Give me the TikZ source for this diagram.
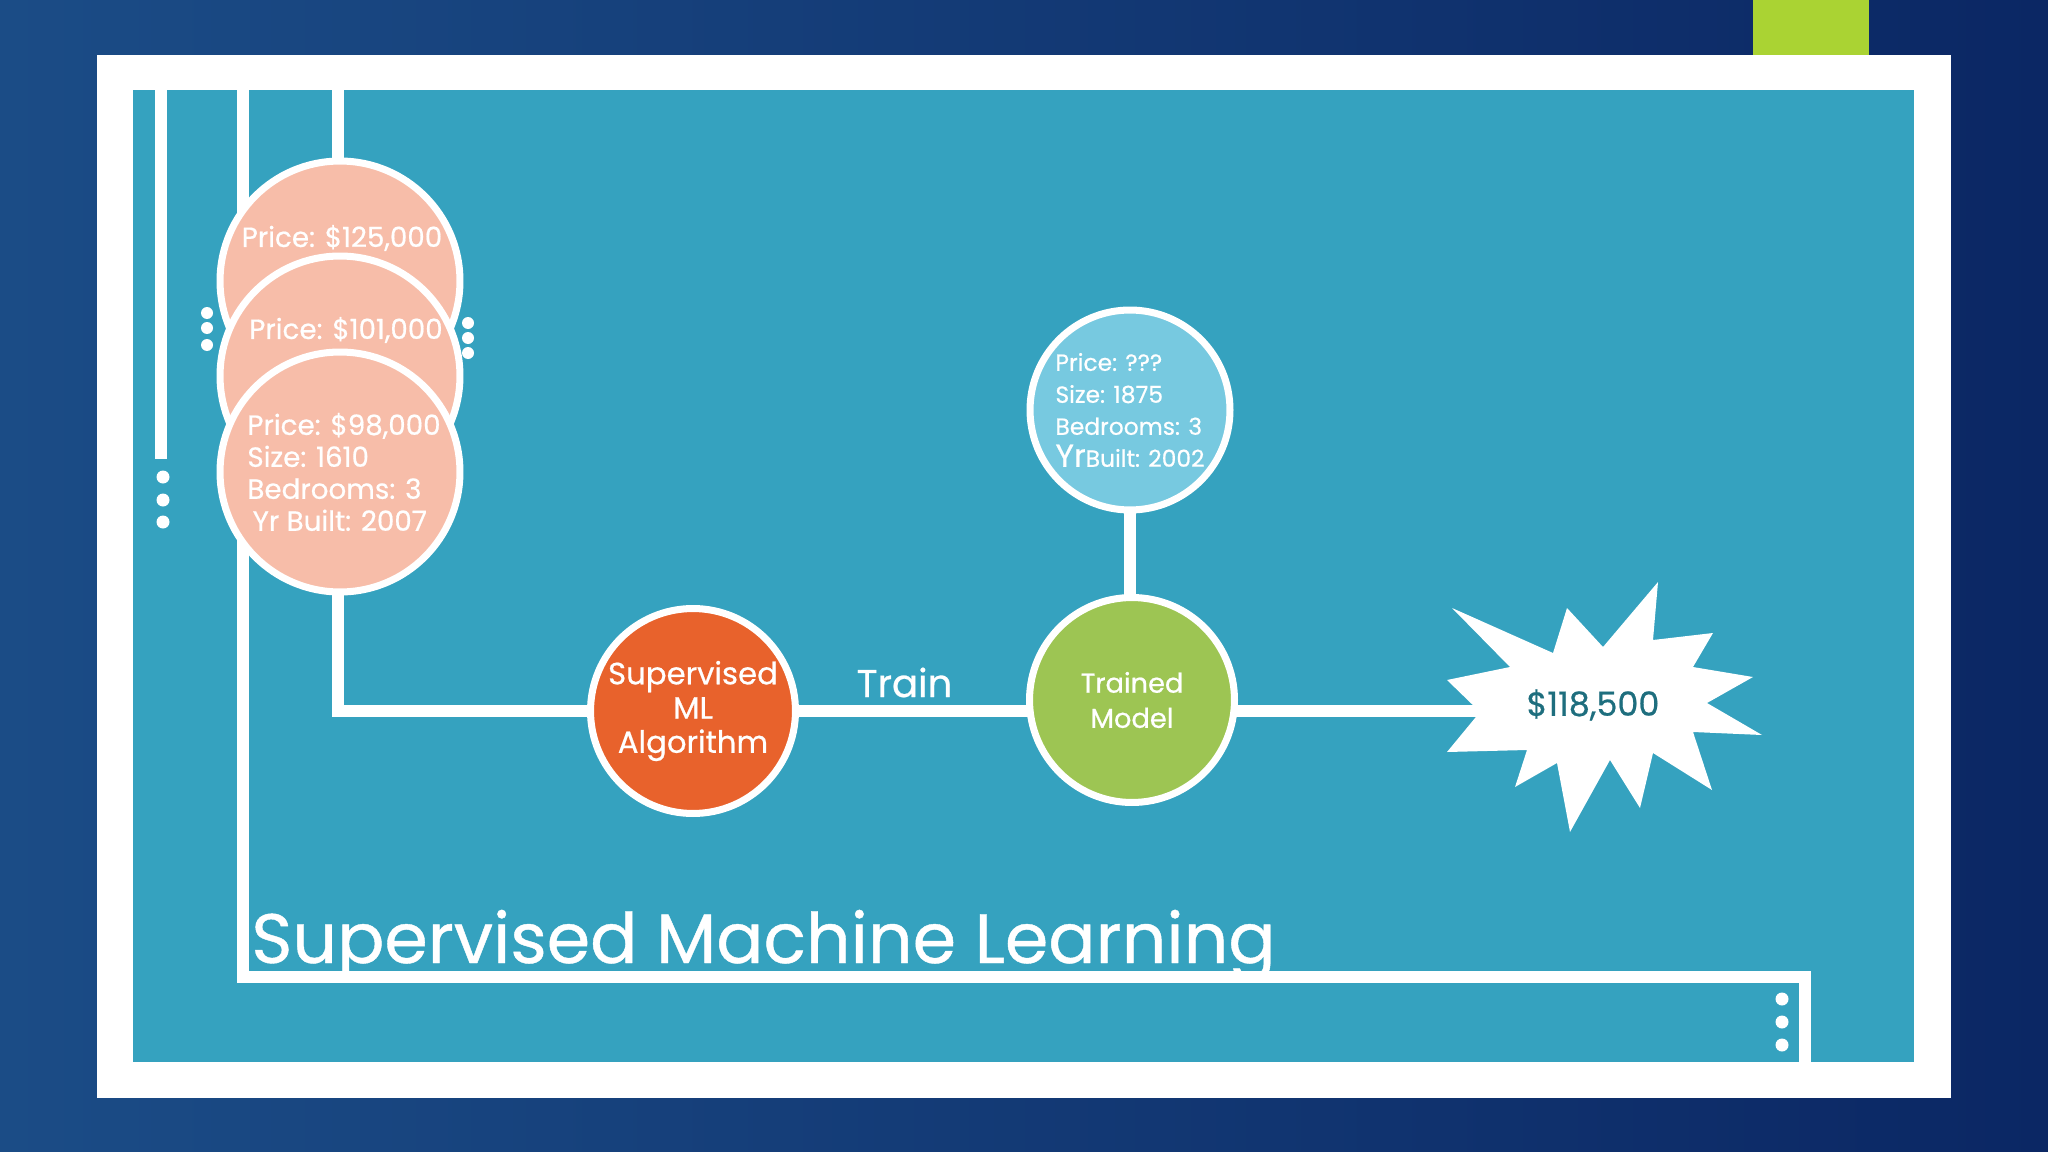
\documentclass[tikz,border=0pt]{standalone}
\usepackage{fontspec}
\setmainfont{Poppins}[FakeBold=0.6]
\usetikzlibrary{positioning}

\definecolor{navy}{HTML}{0B2764}
\definecolor{navylight}{HTML}{1B4C86}
\definecolor{panel}{HTML}{35A2BF}
\definecolor{peach}{HTML}{F7BDA9}
\definecolor{rust}{HTML}{E8622C}
\definecolor{leaf}{HTML}{9DC553}
\definecolor{sky}{HTML}{77C9E0}
\definecolor{lime}{HTML}{AAD333}
\definecolor{pricetext}{HTML}{1E6E7E}

\pgfdeclarelayer{back}
\pgfdeclarelayer{wires}
\pgfsetlayers{back,wires,main}

\begin{document}
\begin{tikzpicture}
  [x=0.02cm, y=-0.02cm,
   wire/.style={white, line width=6.3pt},
   ball/.style={circle, draw=white, line width=4pt, inner sep=0pt, text=white},
   txt/.style={text=white, inner sep=0pt}]
  \useasboundingbox (0,0) rectangle (2048,1152);

  \begin{pgfonlayer}{back}
    \shade[left color=navylight, right color=navy] (0,0) rectangle (2048,1152);
    \fill[white] (97,55) rectangle (1951,1098);
    \fill[panel] (133,90) rectangle (1914,1062);
    \fill[lime] (1753,0) rectangle (1869,55);
  \end{pgfonlayer}

  % houses
  \node[ball, fill=peach, minimum size=4.8cm] (house1) at (340,281) {};
  \node[ball, fill=peach, minimum size=4.8cm] (house2) at (340,376) {};
  \node[ball, fill=peach, minimum size=4.8cm] (house3) at (340,472) {};
  \node[txt, font=\fontsize{15.8}{18}\selectfont] (price1) at (342,238) {Price: \$125,000};
  \node[txt, font=\fontsize{15.8}{18}\selectfont] (price2) at (346,330) {Price: \$101,000};
  \node[txt, align=left, font=\fontsize{15.8}{18.2}\selectfont] (details) at (344,472)
    {Price: \$98,000\\Size: 1610\\Bedrooms: 3\\\hspace{3pt}Yr Built: 2007};

  \node[ball, fill=rust, minimum size=4.1cm, align=center,
        font=\fontsize{17.5}{19.5}\selectfont] (algo) at (693,711) {Supervised\\ML\\Algorithm};
  \node[ball, fill=sky, minimum size=4.0cm, align=left,
        font=\fontsize{13.3}{18.2}\selectfont] (query) at (1130,410)
    {Price: ???\\Size: 1875\\Bedrooms: 3\\{\fontsize{18}{18}\selectfont Yr}Built: 2002};
  \node[ball, fill=leaf, minimum size=4.1cm, align=center,
        font=\fontsize{15.5}{20}\selectfont] (model) at (1132,700) {Trained\\Model};

  % result
  \fill[white] (1452,608) -- (1553,653) -- (1567,608) -- (1603,647) -- (1658,582)
    -- (1653,640) -- (1713,633) -- (1693,667) -- (1753,677) -- (1707,703)
    -- (1762,735) -- (1693,732) -- (1712,790) -- (1653,753) -- (1640,808)
    -- (1610,760) -- (1570,832) -- (1557,763) -- (1515,787) -- (1527,750)
    -- (1447,752) -- (1480,712) -- (1447,680) -- (1510,667) -- cycle;
  \node[txt, text=pricetext, font=\fontsize{19}{22}\selectfont] (price) at (1593,705) {\$118,500};

  \coordinate (railA) at (161,90);
  \coordinate (railAend) at (161,459);
  \coordinate (railB) at (243,90);
  \coordinate (railBturn) at (243,977);
  \coordinate (railR) at (1805,977);
  \coordinate (railRend) at (1805,1062);
  \coordinate (railC) at (338,90);

  \begin{pgfonlayer}{wires}
    \draw[wire] (railA) -- (railAend);
    \draw[wire] (railB) -- (railBturn) -- (railR) -- (railRend);
    \draw[wire] (railC) -- (railC |- house1.center);
    \draw[wire] (house3.center -| railC) |- (algo.center);
    \draw[wire] (algo.center) -- node[midway, anchor=base, xshift=-0.16cm, yshift=0.28cm,
      text=white, font=\fontsize{22}{26}\selectfont] (train) {Train} (algo.center -| model.center);
    \draw[wire] (query.center) -- (query.center |- model.center);
    \draw[wire] (algo.center -| model.center) -- (algo.center -| price.center);
  \end{pgfonlayer}

  % dots
  \foreach \y in {477,500,522} \fill[white] (163,\y) circle (6.5);
  \foreach \y in {313,328,345} \fill[white] (207,\y) circle (6);
  \foreach \y in {323,338,353} \fill[white] (468,\y) circle (6);
  \foreach \y in {999,1022,1045} \fill[white] (1782,\y) circle (6.5);

  \node[txt, anchor=base west, font=\fontsize{39.8}{44}\selectfont] (title) at (251,963)
    {Supervised Machine Learning};
\end{tikzpicture}
\end{document}
